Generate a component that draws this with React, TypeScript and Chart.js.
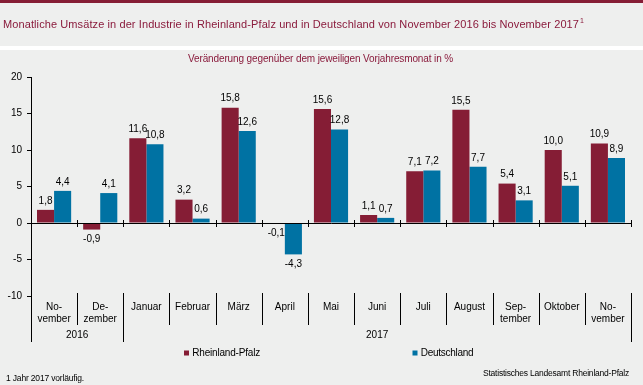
import { useEffect, useRef } from "react";
import { Chart, registerables } from "chart.js";

Chart.register(...registerables);

const title =
  "Monatliche Umsätze in der Industrie in Rheinland-Pfalz und in Deutschland von November 2016 bis November 2017";
const subtitle = "Veränderung gegenüber dem jeweiligen Vorjahresmonat in %";
const footnote = "1 Jahr 2017 vorläufig.";
const source = "Statistisches Landesamt Rheinland-Pfalz";

const monthLabels: string[][] = [
  ["No-", "vember"],
  ["De-", "zember"],
  ["Januar"],
  ["Februar"],
  ["März"],
  ["April"],
  ["Mai"],
  ["Juni"],
  ["Juli"],
  ["August"],
  ["Sep-", "tember"],
  ["Oktober"],
  ["No-", "vember"],
];
const yearLabels = ["2016", "2017"];
const yearSpans = [2, 11];

const seriesNames = ["Rheinland-Pfalz", "Deutschland"];
const rpValues = [1.8, -0.9, 11.6, 3.2, 15.8, -0.1, 15.6, 1.1, 7.1, 15.5, 5.4, 10.0, 10.9];
const deValues = [4.4, 4.1, 10.8, 0.6, 12.6, -4.3, 12.8, 0.7, 7.2, 7.7, 3.1, 5.1, 8.9];

const RED = "#851D35";
const BLUE = "#0072A3";
const BG = "#EEEFEE";
const TITLE_COLOR = "#8A1B3C";
const FONT = '"Liberation Sans", Arial, sans-serif';

function fitText(
  ctx: CanvasRenderingContext2D,
  text: string,
  x: number,
  y: number,
  width: number
) {
  (ctx as any).letterSpacing = "0px";
  const w = ctx.measureText(text).width;
  const n = Array.from(text).length;
  const ls = n > 1 ? (width - w) / n : 0;
  (ctx as any).letterSpacing = ls.toFixed(3) + "px";
  ctx.textAlign = "left";
  ctx.fillText(text, x, y);
  (ctx as any).letterSpacing = "0px";
}

const decor = {
  id: "decor",
  beforeDraw(chart: any) {
    const ctx: CanvasRenderingContext2D = chart.ctx;
    ctx.save();
    ctx.fillStyle = BG;
    ctx.fillRect(0, 0, chart.width, chart.height);
    ctx.fillStyle = RED;
    ctx.fillRect(0, 0, chart.width, 3);
    ctx.fillStyle = "#FFFFFF";
    ctx.fillRect(0, 46, chart.width, 4);
    ctx.restore();
  },
  afterDatasetsDraw(chart: any) {
    const ctx: CanvasRenderingContext2D = chart.ctx;
    const xs = chart.scales.x;
    const ys = chart.scales.y;
    const area = chart.chartArea;
    const n = monthLabels.length;
    const catW = (area.right - area.left) / n;
    const y0 = Math.round(ys.getPixelForValue(0)) + 0.5;
    const bottom = Math.round(area.bottom);

    ctx.save();
    ctx.strokeStyle = "#000";
    ctx.lineWidth = 1;
    ctx.beginPath();
    ctx.moveTo(area.left, y0);
    ctx.lineTo(area.right + 0.5, y0);
    const longIdx: number[] = [0];
    let acc = 0;
    yearSpans.forEach((s) => {
      acc += s;
      longIdx.push(acc);
    });
    for (let i = 0; i <= n; i++) {
      const bx = Math.round(xs.getPixelForValue(0) - catW / 2 + i * catW) + 0.5;
      if (i > 0) {
        ctx.moveTo(bx, y0 - 3.5);
        ctx.lineTo(bx, y0 + 3.5);
      }
      const long = longIdx.includes(i);
      ctx.moveTo(bx, i === 0 ? bottom : bottom - 3);
      ctx.lineTo(bx, long ? 342 : 325);
    }
    ctx.stroke();

    // data labels
    ctx.fillStyle = "#000";
    ctx.font = `10px ${FONT}`;
    ctx.textAlign = "center";
    ctx.textBaseline = "middle";
    chart.data.datasets.forEach((ds: any, di: number) => {
      const meta = chart.getDatasetMeta(di);
      meta.data.forEach((el: any, i: number) => {
        const v = ds.data[i] as number;
        const txt = v.toFixed(1).replace(".", ",");
        const ty = v >= 0 ? el.y - 9 : el.y + 10;
        ctx.fillText(txt, el.x, ty);
      });
    });

    // month labels
    monthLabels.forEach((lines, i) => {
      const cx = xs.getPixelForValue(i);
      lines.forEach((ln, li) => {
        ctx.fillText(ln, cx, 307 + li * 12.5);
      });
    });
    // year labels
    let start = 0;
    yearLabels.forEach((lab, yi) => {
      const end = start + yearSpans[yi];
      const cx = xs.getPixelForValue(0) - catW / 2 + ((start + end) / 2) * catW;
      ctx.fillText(lab, cx, 335.5);
      start = end;
    });

    // legend
    ctx.textBaseline = "middle";
    ctx.fillStyle = RED;
    ctx.fillRect(184, 350.5, 5, 5);
    ctx.fillStyle = BLUE;
    ctx.fillRect(412.5, 350.5, 5, 5);
    ctx.fillStyle = "#000";
    fitText(ctx, seriesNames[0], 192.3, 353, 67.7);
    fitText(ctx, seriesNames[1], 420.7, 353, 52.6);

    // title & subtitle
    ctx.textBaseline = "alphabetic";
    ctx.fillStyle = TITLE_COLOR;
    ctx.font = `11px ${FONT}`;
    fitText(ctx, title, 3, 28, 576);
    const tw = 3 + 576;
    ctx.font = `7px ${FONT}`;
    ctx.fillText("1", tw + 1, 23);
    ctx.font = `10px ${FONT}`;
    fitText(ctx, subtitle, 188, 62, 265);

    // footers
    ctx.fillStyle = "#000";
    ctx.font = `8.5px ${FONT}`;
    ctx.textBaseline = "middle";
    fitText(ctx, footnote, 6, 378.5, 78);
    fitText(ctx, source, 483, 373.3, 146);
    ctx.restore();
  },
};

export default function App() {
  const ref = useRef<HTMLCanvasElement | null>(null);
  useEffect(() => {
    document.body.style.margin = "0";
    const canvas = ref.current!;
    const chart = new Chart(canvas, {
      type: "bar",
      data: {
        labels: monthLabels.map((l) => l.join("")),
        datasets: [
          {
            label: seriesNames[0],
            data: rpValues,
            backgroundColor: RED,
            borderWidth: 0,
            categoryPercentage: 0.74,
            barPercentage: 1,
          },
          {
            label: seriesNames[1],
            data: deValues,
            backgroundColor: BLUE,
            borderWidth: 0,
            categoryPercentage: 0.74,
            barPercentage: 1,
          },
        ],
      },
      options: {
        responsive: false,
        animation: false,
        devicePixelRatio: 1,
        layout: { padding: { left: 0, right: 12, top: 77, bottom: 89 } },
        plugins: {
          legend: { display: false },
          tooltip: { enabled: false },
        },
        scales: {
          x: { display: false, offset: true },
          y: {
            min: -10,
            max: 20,
            ticks: {
              stepSize: 5,
              color: "#000",
              font: { family: FONT, size: 10 },
              padding: 5,
              callback: (v: any) => String(v),
            },
            grid: {
              drawOnChartArea: false,
              drawTicks: true,
              tickLength: 4,
              color: "#000",
            },
            border: { display: true, color: "#000" },
            afterFit: (s: any) => {
              s.width = 31;
            },
          },
        },
      },
      plugins: [decor],
    });
    return () => chart.destroy();
  }, []);
  return (
    <div style={{ position: "absolute", left: 0, top: 0, width: 643, height: 385, background: BG }}>
      <canvas ref={ref} width={643} height={385} style={{ display: "block" }} />
    </div>
  );
}
